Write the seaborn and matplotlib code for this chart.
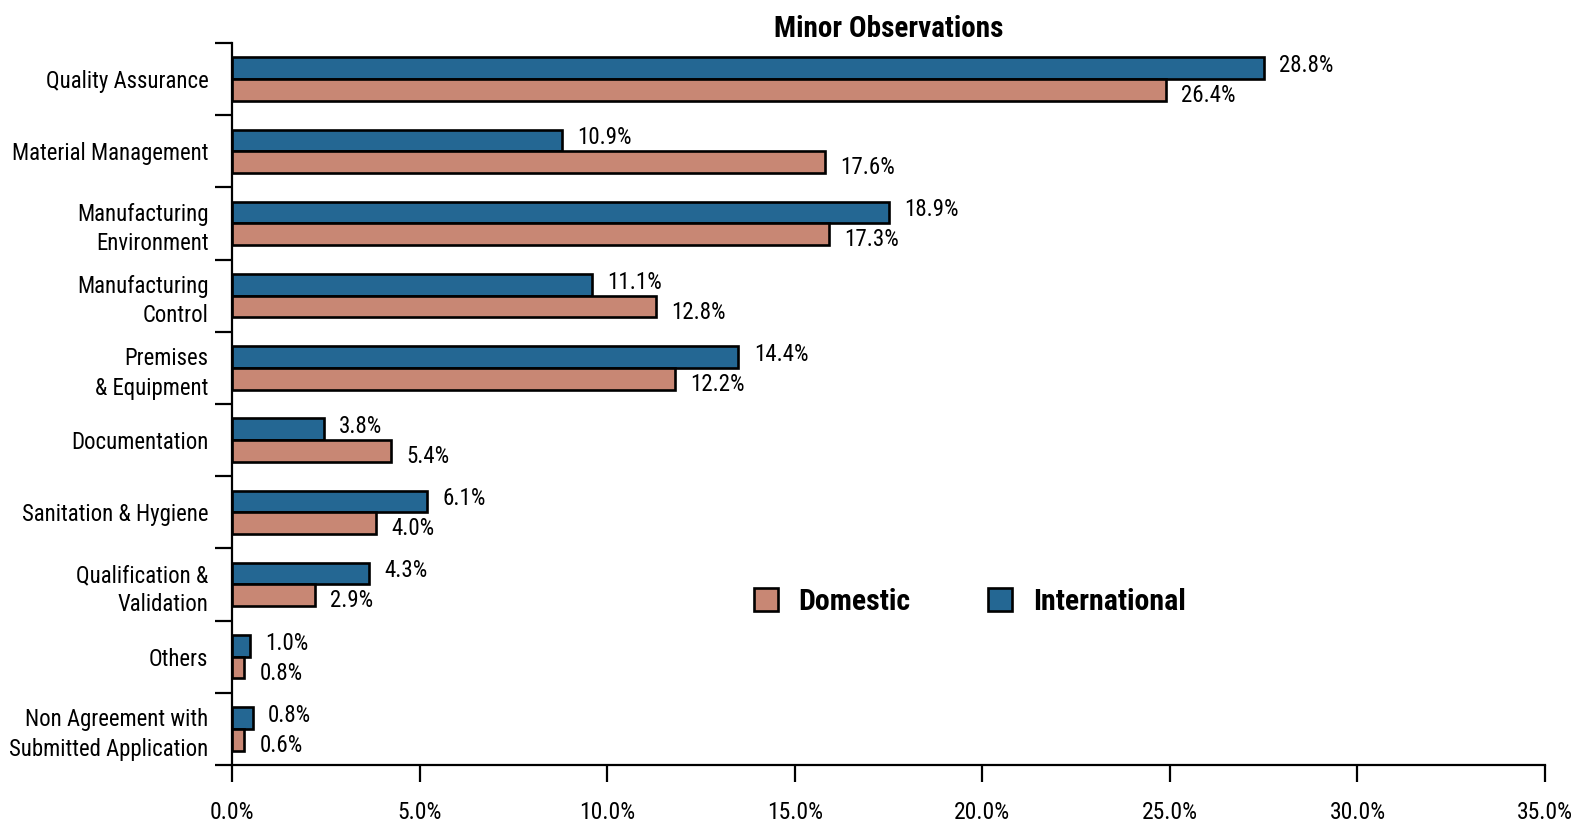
import pandas as pd
import seaborn as sns
import matplotlib.pyplot as plt
from matplotlib.patches import Patch

# categories, top to bottom
categories = [
    "Quality Assurance",
    "Material Management",
    "Manufacturing\nEnvironment",
    "Manufacturing\nControl",
    "Premises\n& Equipment",
    "Documentation",
    "Sanitation & Hygiene",
    "Qualification &\nValidation",
    "Others",
    "Non Agreement with\nSubmitted Application",
]

# bar lengths as drawn in the picture (percent)
international = [27.5, 8.8, 17.5, 9.6, 13.5, 2.45, 5.2, 3.65, 0.47, 0.55]
domestic = [24.9, 15.8, 15.9, 11.3, 11.8, 4.25, 3.85, 2.2, 0.32, 0.32]

# the value labels printed next to the bars
international_labels = ["28.8%", "10.9%", "18.9%", "11.1%", "14.4%", "3.8%", "6.1%", "4.3%", "1.0%", "0.8%"]
domestic_labels = ["26.4%", "17.6%", "17.3%", "12.8%", "12.2%", "5.4%", "4.0%", "2.9%", "0.8%", "0.6%"]

x_ticks = [0, 5, 10, 15, 20, 25, 30, 35]

# long form table for seaborn
df = pd.DataFrame({
    "Category": categories * 2,
    "Share": international + domestic,
    "Origin": ["International"] * len(categories) + ["Domestic"] * len(categories),
})

sns.set_style("white")
plt.rcParams["font.family"] = ["Roboto Condensed", "DejaVu Sans"]
plt.rcParams["text.color"] = "black"
plt.rcParams["xtick.color"] = "black"
plt.rcParams["ytick.color"] = "black"

colours = {"International": "#246793", "Domestic": "#C88774"}

fig = plt.figure(figsize=(15.75, 8.23), dpi=100)
ax = fig.add_axes([0.1473, 0.0705, 0.8337, 0.8773])

# create the plot
sns.barplot(
    data=df,
    y="Category",
    x="Share",
    hue="Origin",
    hue_order=["International", "Domestic"],
    palette=colours,
    saturation=1,
    order=categories,
    width=0.6,
    edgecolor="black",
    linewidth=1.9,
    legend=False,
    ax=ax,
)

# value labels next to each bar
for container, labels, dy in zip(ax.containers, [international_labels, domestic_labels], [2, -4]):
    for bar, text in zip(container, labels):
        ax.annotate(
            text,
            xy=(bar.get_width(), bar.get_y() + bar.get_height() / 2),
            xytext=(11, dy),
            textcoords="offset points",
            va="center",
            ha="left",
            fontsize=16.5,
        )

# axes styling
ax.set_xlim(0, 35)
ax.set_ylim(len(categories) - 0.5, -0.5)
ax.set_xticks(x_ticks)
ax.set_xticklabels([f"{t:.1f}%" for t in x_ticks], fontsize=17)
ax.set_yticks(range(len(categories)))
ax.set_yticklabels(categories, fontsize=16.4, linespacing=1.35)
ax.set_yticks([i - 0.5 for i in range(len(categories) + 1)], minor=True)
ax.tick_params(axis="y", which="major", length=0, pad=17)
ax.tick_params(axis="y", which="minor", length=12, width=1.6, direction="out", left=True)
ax.tick_params(axis="x", length=12, width=1.6, direction="out", bottom=True, pad=14)
ax.set_xlabel("")
ax.set_ylabel("")
for side in ["top", "right"]:
    ax.spines[side].set_visible(False)
for side in ["left", "bottom"]:
    ax.spines[side].set_linewidth(1.6)
    ax.spines[side].set_color("black")

# add the title
ax.set_title("Minor Observations", fontsize=21, fontweight="bold", pad=4)

# legend
handles = [
    Patch(facecolor=colours["Domestic"], edgecolor="black", linewidth=1.9, label="Domestic"),
    Patch(facecolor=colours["International"], edgecolor="black", linewidth=1.9, label="International"),
]
ax.legend(
    handles=handles,
    loc="center",
    bbox_to_anchor=(0.562, 0.226),
    ncol=2,
    frameon=False,
    prop={"size": 21.5, "weight": "bold"},
    handlelength=0.8,
    handleheight=0.8,
    handletextpad=0.7,
    columnspacing=2.6,
)

plt.savefig("out.png", dpi=100)
